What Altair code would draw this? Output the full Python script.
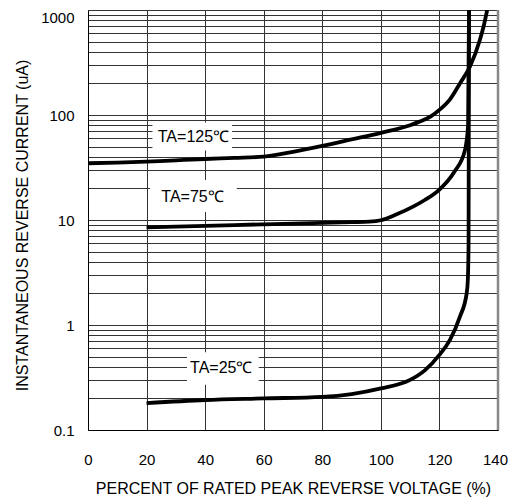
import altair as alt
import pandas as pd

# --- data ---
x125 = [0, 10, 20, 30, 40, 50, 60, 70, 80, 90, 100, 110, 113, 116.8, 120.2, 123.6, 127, 130.4, 133.8, 135.2, 136.3]
y125 = [34.7, 35.2, 35.9, 37, 38.1, 39, 40.1, 44.6, 50.7, 58.5, 67.6, 80, 86, 96, 113, 141, 200, 288, 518, 720, 1000]

x75 = [20, 30, 40, 50, 60, 70, 80, 90, 96, 100, 105, 111, 115, 120, 125, 128.7, 129.8, 130.1]
y75 = [8.5, 8.65, 8.8, 8.95, 9.1, 9.25, 9.4, 9.55, 9.65, 9.95, 11.2, 13.4, 15.5, 19.5, 28.5, 46, 80, 1000]

x25 = [20, 40, 60, 80, 90, 100, 110, 115, 120, 123.6, 127, 129.3, 129.7, 129.95, 130.1]
y25 = [0.18, 0.193, 0.2, 0.207, 0.22, 0.249, 0.3, 0.37, 0.52, 0.72, 1.2, 2.0, 2.7, 6, 1000]

labels = ["TA=125\u2103", "TA=75\u2103", "TA=25\u2103"]
label_x = [36.0, 35.7, 45.5]
label_y = [61.7, 16.4, 0.389]
box_x1 = [22.0, 21.2, 33.8]
box_x2 = [49.2, 50.8, 58.3]
box_y1 = [46.0, 11.9, 0.27]
box_y2 = [85.0, 24.0, 0.55]

x_ticks = [0, 20, 40, 60, 80, 100, 120, 140]
y_grid = [0.1, 0.2, 0.3, 0.4, 0.5, 0.6, 0.7, 0.8, 0.9,
          1, 2, 3, 4, 5, 6, 7, 8, 9,
          10, 20, 30, 40, 50, 60, 70, 80, 90,
          100, 200, 300, 400, 500, 600, 700, 800, 900, 1000]
y_major = ["0.1", "1", "10", "100", "1000"]

FONT = "Liberation Sans"

rows = []
for name, xs, ys in (("125", x125, y125), ("75", x75, y75), ("25", x25, y25)):
    for a, b in zip(xs, ys):
        rows.append({"series": name, "x": a, "y": b})
lines_df = pd.DataFrame(rows)

lab_df = pd.DataFrame({"label": labels, "x": label_x, "y": label_y,
                       "x1": box_x1, "x2": box_x2, "y1": box_y1, "y2": box_y2})
border_df = pd.DataFrame({"x": [140]})

xscale = alt.Scale(domain=[0, 140], nice=False)
yscale = alt.Scale(type="log", domain=[0.1, 1000], nice=False)

label_expr = "indexof(" + str(y_major) + ", datum.label) >= 0 ? datum.label : ''"

x_axis = alt.Axis(values=x_ticks, grid=True, gridColor="#333", gridWidth=1,
                  ticks=False, tickSize=0, domain=True, domainColor="#000",
                  labelFont=FONT, labelFontSize=15, labelColor="#000",
                  labelPadding=29, labelBaseline="middle", labelFlush=False,
                  labelOffset={"condition": {"test": "datum.value >= 140", "value": -3},
                               "value": 0},
                  title="PERCENT OF RATED PEAK REVERSE VOLTAGE (%)",
                  titleFont=FONT, titleFontSize=16, titleFontWeight="normal",
                  titleColor="#000", titleY=58, titleBaseline="middle")
y_axis = alt.Axis(values=y_grid, format="~g", labelExpr=label_expr, labelOverlap=False,
                  grid=True, gridColor="#333", gridWidth=1,
                  ticks=False, tickSize=0, domain=True, domainColor="#000",
                  labelFont=FONT, labelFontSize=15, labelColor="#000", labelPadding=14,
                  labelBaseline={"condition": {"test": "datum.value >= 1000", "value": "top"},
                                 "value": "middle"},
                  title="INSTANTANEOUS REVERSE CURRENT (uA)",
                  titleFont=FONT, titleFontSize=16, titleFontWeight="normal",
                  titleColor="#000", titleX=-66, titleY=215, titleAngle=-90,
                  titleAlign="center", titleBaseline="middle")

lines = alt.Chart(lines_df).mark_line(interpolate="monotone", color="#000",
                                      strokeWidth=3.8, clip=True).encode(
    x=alt.X("x:Q", scale=xscale, axis=x_axis),
    y=alt.Y("y:Q", scale=yscale, axis=y_axis),
    detail="series:N",
)

border = alt.Chart(border_df).mark_rule(color="#888", strokeWidth=2.5).encode(
    x=alt.X("x:Q", scale=xscale, axis=x_axis)
)

boxes = alt.Chart(lab_df).mark_rect(color="white").encode(
    x=alt.X("x1:Q", scale=xscale, axis=x_axis), x2="x2:Q",
    y=alt.Y("y1:Q", scale=yscale, axis=y_axis), y2="y2:Q",
)

texts = alt.Chart(lab_df).mark_text(font=FONT, fontSize=16, color="#000",
                                    align="center", baseline="middle").encode(
    x=alt.X("x:Q", scale=xscale, axis=x_axis),
    y=alt.Y("y:Q", scale=yscale, axis=y_axis),
    text="label:N",
)

chart = alt.layer(lines, border, boxes, texts).properties(
    width=410, height=420,
    autosize=alt.AutoSizeParams(type="none"),
    padding={"left": 80, "top": 2, "right": 11, "bottom": 70},
    background="white",
).configure_view(stroke=None)

chart.save("out.html", embed_options={"renderer": "svg", "actions": False})
